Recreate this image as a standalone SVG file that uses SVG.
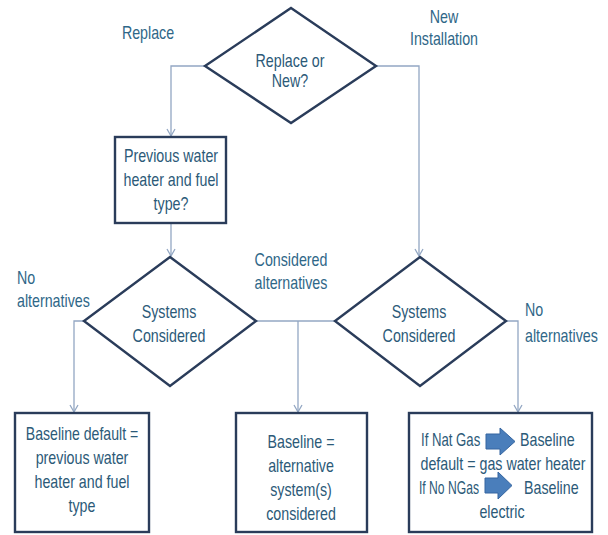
<svg xmlns="http://www.w3.org/2000/svg" width="608" height="535" viewBox="0 0 608 535">
  <style>
    .shape { fill: #ffffff; stroke: #2a3c5a; stroke-width: 2.4; }
    .conn { fill: none; stroke: #93a7c3; stroke-width: 1.3; }
    .t { font-family: "Liberation Sans", Arial, sans-serif; font-size: 19px; fill: #2c5a78; text-anchor: middle; }
    .lbl { font-family: "Liberation Sans", Arial, sans-serif; font-size: 19px; fill: #2f6788; }
    .blk { fill: #4a7ebb; stroke: #3565a0; stroke-width: 1; }
  </style>
  <defs>
    <marker id="arr" markerUnits="userSpaceOnUse" markerWidth="10" markerHeight="10" refX="8" refY="5" orient="auto">
      <path d="M1,1 L8,5 L1,9" fill="none" stroke="#93a7c3" stroke-width="1.3"/>
    </marker>
  </defs>

  <rect width="608" height="535" fill="#ffffff"/>

  <!-- connectors -->
  <g id="connectors">
    <path class="conn" d="M205,66 H171 V136" marker-end="url(#arr)"/>
    <path class="conn" d="M376,66 H419 V256" marker-end="url(#arr)"/>
    <path class="conn" d="M171,223 V256" marker-end="url(#arr)"/>
    <path class="conn" d="M84,321 H74 V412" marker-end="url(#arr)"/>
    <path class="conn" d="M256,321 H335"/>
    <path class="conn" d="M298,321 V412" marker-end="url(#arr)"/>
    <path class="conn" d="M506,321 H518 V412" marker-end="url(#arr)"/>
  </g>

  <!-- branch labels -->
  <g id="labels">
    <text class="lbl" transform="translate(148,39) scale(0.75,1)" text-anchor="middle">Replace</text>
    <g transform="translate(444,0) scale(0.75,1)">
      <text class="lbl" x="0" y="23" text-anchor="middle">New</text>
      <text class="lbl" x="0" y="45" text-anchor="middle">Installation</text>
    </g>
    <g transform="translate(17,0) scale(0.75,1)">
      <text class="lbl" x="0" y="284">No</text>
      <text class="lbl" x="0" y="307">alternatives</text>
    </g>
    <g transform="translate(291,0) scale(0.75,1)">
      <text class="lbl" x="0" y="266" text-anchor="middle">Considered</text>
      <text class="lbl" x="0" y="289" text-anchor="middle">alternatives</text>
    </g>
    <g transform="translate(525,0) scale(0.75,1)">
      <text class="lbl" x="0" y="316">No</text>
      <text class="lbl" x="0" y="342">alternatives</text>
    </g>
  </g>

  <!-- decision: replace or new -->
  <g id="decision-replace-new">
    <polygon class="shape" points="291,8 376,66 291,123 205,66"/>
    <g transform="translate(290,0) scale(0.75,1)">
      <text class="t" x="0" y="67">Replace or</text>
      <text class="t" x="0" y="87">New?</text>
    </g>
  </g>

  <!-- previous heater question -->
  <g id="previous-heater">
    <rect class="shape" x="115" y="137" width="111" height="86"/>
    <g transform="translate(171,0) scale(0.75,1)">
      <text class="t" x="0" y="162">Previous water</text>
      <text class="t" x="0" y="186">heater and fuel</text>
      <text class="t" x="0" y="210">type?</text>
    </g>
  </g>

  <!-- decision: systems considered (replace branch) -->
  <g id="systems-left">
    <polygon class="shape" points="170,257 256,321 170,386 84,321"/>
    <g transform="translate(169,0) scale(0.75,1)">
      <text class="t" x="0" y="318">Systems</text>
      <text class="t" x="0" y="342">Considered</text>
    </g>
  </g>

  <!-- decision: systems considered (new installation branch) -->
  <g id="systems-right">
    <polygon class="shape" points="420,257 506,321 420,386 335,321"/>
    <g transform="translate(419,0) scale(0.75,1)">
      <text class="t" x="0" y="318">Systems</text>
      <text class="t" x="0" y="342">Considered</text>
    </g>
  </g>

  <!-- outcome: previous system -->
  <g id="baseline-previous">
    <rect class="shape" x="15" y="413" width="134" height="119"/>
    <g transform="translate(82,0) scale(0.75,1)">
      <text class="t" x="0" y="440" textLength="150" lengthAdjust="spacingAndGlyphs">Baseline default =</text>
      <text class="t" x="0" y="464">previous water</text>
      <text class="t" x="0" y="488">heater and fuel</text>
      <text class="t" x="0" y="512">type</text>
    </g>
  </g>

  <!-- outcome: alternatives -->
  <g id="baseline-alternative">
    <rect class="shape" x="236" y="413" width="131" height="119"/>
    <g transform="translate(301,0) scale(0.75,1)">
      <text class="t" x="0" y="448">Baseline =</text>
      <text class="t" x="0" y="472">alternative</text>
      <text class="t" x="0" y="496">system(s)</text>
      <text class="t" x="0" y="520">considered</text>
    </g>
  </g>

  <!-- outcome: new installation defaults -->
  <g id="baseline-new">
    <rect class="shape" x="409" y="413" width="183" height="119"/>
    <text class="t" transform="translate(421,446) scale(0.75,1)" style="text-anchor:start" textLength="79" lengthAdjust="spacingAndGlyphs">If Nat Gas</text>
    <polygon class="blk" points="486,434 500,434 500,428 515,441.5 500,455 500,449 486,449"/>
    <text class="t" transform="translate(520,446) scale(0.75,1)" style="text-anchor:start">Baseline</text>
    <text class="t" transform="translate(503,470) scale(0.75,1)">default = gas water heater</text>
    <text class="t" transform="translate(419,494) scale(0.75,1)" style="text-anchor:start" textLength="80" lengthAdjust="spacingAndGlyphs">If No NGas</text>
    <polygon class="blk" points="485,478 498,478 498,472 512,485.5 498,499 498,493 485,493"/>
    <text class="t" transform="translate(524,494) scale(0.75,1)" style="text-anchor:start">Baseline</text>
    <text class="t" transform="translate(502,518) scale(0.75,1)">electric</text>
  </g>
</svg>
